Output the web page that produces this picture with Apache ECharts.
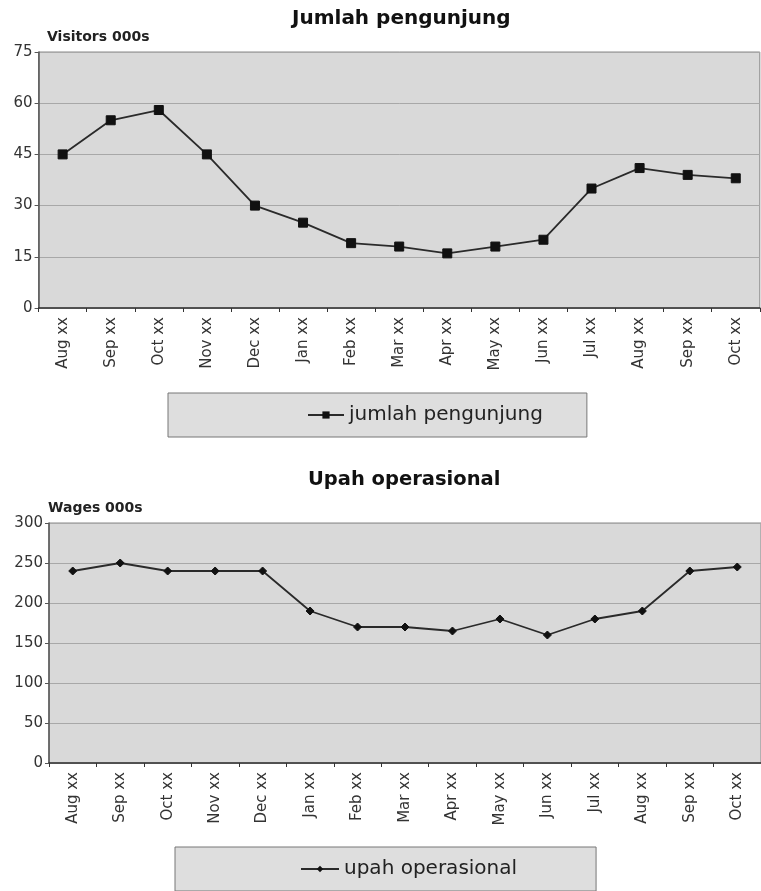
<!DOCTYPE html>
<html>
<head>
<meta charset="utf-8">
<style>
  html, body { margin: 0; padding: 0; background: #ffffff; }
  #chart { width: 761px; height: 891px; }
</style>
<script src="https://cdn.jsdelivr.net/npm/echarts@6/dist/echarts.min.js"></script>
</head>
<body>
<div id="chart"></div>
<script>
// ---- data ----
const months = ['Aug xx','Sep xx','Oct xx','Nov xx','Dec xx','Jan xx','Feb xx','Mar xx','Apr xx','May xx','Jun xx','Jul xx','Aug xx','Sep xx','Oct xx'];
const visitors = [45, 55, 58, 45, 30, 25, 19, 18, 16, 18, 20, 35, 41, 39, 38];
const wages = [240, 250, 240, 240, 240, 190, 170, 170, 165, 180, 160, 180, 190, 240, 245];
const titleTop = 'Jumlah pengunjung';
const titleBottom = 'Upah operasional';
const unitTop = 'Visitors 000s';
const unitBottom = 'Wages 000s';
const seriesTop = 'jumlah pengunjung';
const seriesBottom = 'upah operasional';

const FONT = 'DejaVu Sans';
const chart = echarts.init(document.getElementById('chart'), null, { renderer: 'canvas' });

function xAxis(gridIndex) {
  return {
    type: 'category', gridIndex, data: months, boundaryGap: true,
    axisLine: { lineStyle: { color: '#333', width: 1.5 } },
    axisTick: { show: true, length: 4, alignWithLabel: false, lineStyle: { color: '#333' } },
    axisLabel: { rotate: 90, margin: 9, color: '#333', fontFamily: FONT, fontSize: 15, interval: 0 },
    splitLine: { show: false }
  };
}
function yAxis(gridIndex, max, interval) {
  return {
    type: 'value', gridIndex, min: 0, max, interval,
    axisLine: { show: true, lineStyle: { color: '#555', width: 1.5 } },
    axisTick: { show: true, length: 4, lineStyle: { color: '#555' } },
    axisLabel: { color: '#333', fontFamily: FONT, fontSize: 15, margin: 6 },
    splitLine: { show: true, lineStyle: { color: '#a8a8a8', width: 1 } }
  };
}

const option = {
  backgroundColor: '#ffffff',
  animation: false,
  title: [
    { text: titleTop, left: 292, top: 9, padding: 0, textStyle: { fontFamily: FONT, fontWeight: 'bold', fontSize: 20, color: '#111' } },
    { text: unitTop, left: 47, top: 30, padding: 0, textStyle: { fontFamily: FONT, fontWeight: 'bold', fontSize: 14, color: '#222' } },
    { text: titleBottom, left: 308, top: 470, padding: 0, textStyle: { fontFamily: FONT, fontWeight: 'bold', fontSize: 19.5, color: '#111' } },
    { text: unitBottom, left: 48, top: 501, padding: 0, textStyle: { fontFamily: FONT, fontWeight: 'bold', fontSize: 14, color: '#222' } }
  ],
  legend: [
    {
      data: [seriesTop], left: 168, top: 393,
      padding: [12, 44, 12, 139],
      backgroundColor: '#dedede', borderColor: '#777', borderWidth: 1, borderRadius: 0,
      itemWidth: 36, itemHeight: 9, itemGap: 6,
      textStyle: { fontFamily: FONT, fontSize: 20, color: '#222' }
    },
    {
      data: [seriesBottom], left: 175, top: 847,
      padding: [12, 79, 12, 125],
      backgroundColor: '#dedede', borderColor: '#777', borderWidth: 1, borderRadius: 0,
      itemWidth: 38, itemHeight: 8, itemGap: 3,
      textStyle: { fontFamily: FONT, fontSize: 20, color: '#222' }
    }
  ],
  grid: [
    { left: 38.6, top: 52, width: 721.2, height: 256, show: true, backgroundColor: '#d9d9d9', borderColor: '#888', borderWidth: 1 },
    { left: 49, top: 523, width: 716, height: 240, show: true, backgroundColor: '#d9d9d9', borderColor: '#888', borderWidth: 1 }
  ],
  xAxis: [xAxis(0), xAxis(1)],
  yAxis: [yAxis(0, 75, 15), yAxis(1, 300, 50)],
  series: [
    {
      name: seriesTop, type: 'line', xAxisIndex: 0, yAxisIndex: 0, data: visitors,
      symbol: 'rect', symbolSize: 9,
      lineStyle: { color: '#2a2a2a', width: 1.8 },
      itemStyle: { color: '#111', borderColor: '#111' }
    },
    {
      name: seriesBottom, type: 'line', xAxisIndex: 1, yAxisIndex: 1, data: wages,
      symbol: 'diamond', symbolSize: 8,
      lineStyle: { color: '#2a2a2a', width: 1.8 },
      itemStyle: { color: '#111', borderColor: '#111' }
    }
  ]
};
chart.setOption(option);
</script>
</body>
</html>
